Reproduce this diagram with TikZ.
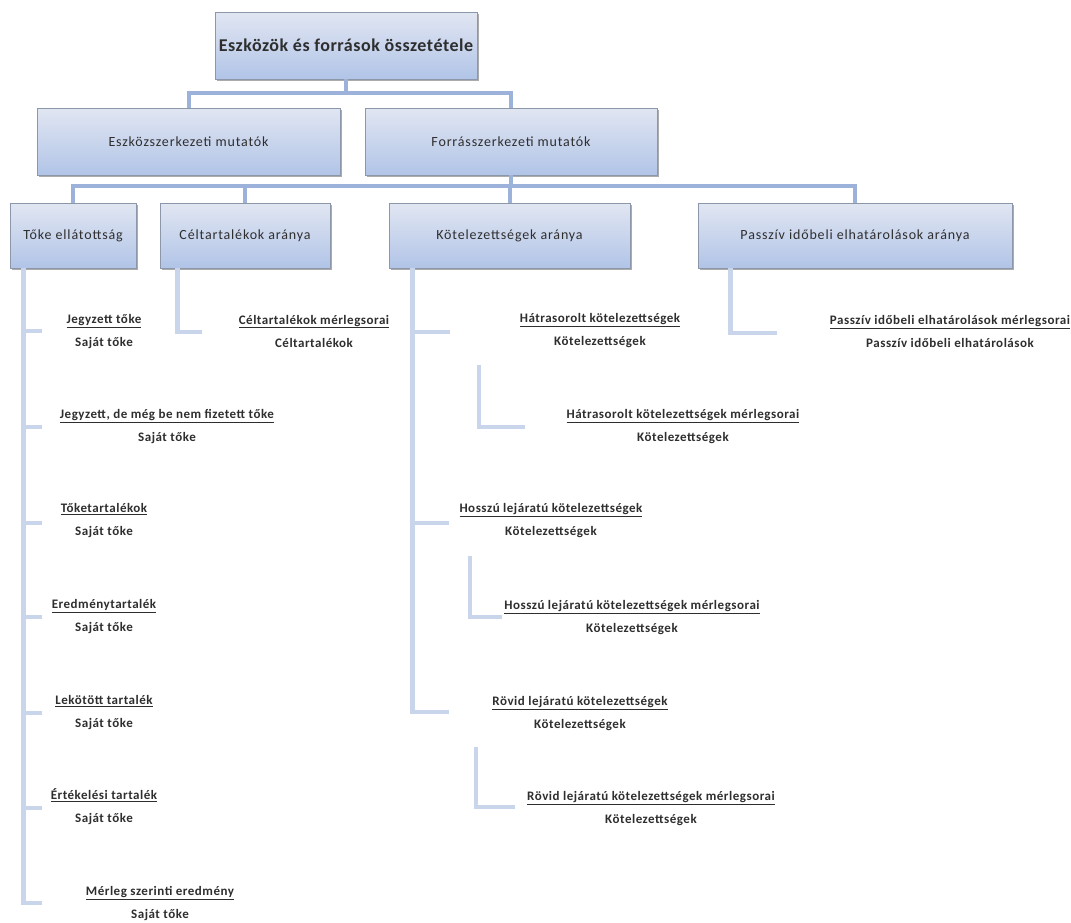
\documentclass[tikz,border=0pt]{standalone}
\usepackage{fontspec}
\setmainfont{Carlito}
\usetikzlibrary{positioning,shadows}

\definecolor{boxtop}{HTML}{E1E6F2}
\definecolor{boxbot}{HTML}{B1C4E7}
\definecolor{boxline}{HTML}{8C97AA}
\definecolor{trunkc}{HTML}{9DB2DA}
\definecolor{twigc}{HTML}{C9D5EA}
\definecolor{inkc}{HTML}{2E2E2E}

\begin{document}
\begin{tikzpicture}[
  x=1pt, y=-1pt,
  font=\fontsize{14}{16}\selectfont\addfontfeatures{LetterSpace=6},
  box/.style={draw=boxline, line width=.7pt, top color=boxtop, bottom color=boxbot, align=center, inner sep=0pt, text=inkc,
    drop shadow={shadow xshift=1.5pt, shadow yshift=-1.5pt, fill=black!55, opacity=.6}},
  rootbox/.style={box, minimum width=262pt, minimum height=67pt, font=\bfseries\fontsize{18}{20}\selectfont\addfontfeatures{LetterSpace=3}},
  midbox/.style={box, minimum height=67pt},
  leafbox/.style={box, minimum height=65pt},
  item/.style={align=center, inner sep=0pt, text=inkc, font=\bfseries\fontsize{13}{23}\selectfont\addfontfeatures{LetterSpace=4}},
  trunk/.style={draw=trunkc, line width=4pt},
  twig/.style={draw=twigc, line width=4.5pt}
]
  \useasboundingbox (0,0) rectangle (1071,922);

  \node[rootbox] (root) at (346,45.5) {Eszközök és források összetétele};
  \node[midbox, minimum width=303pt] (eszk) at (188.5,141.5) {Eszközszerkezeti mutatók};
  \node[midbox, minimum width=292pt] (forr) at (511,141.5) {Forrásszerkezeti mutatók};

  \node[leafbox, minimum width=126pt] (toke) at (73,235.5) {Tőke ellátottság};
  \node[leafbox, minimum width=170pt] (celt) at (245,235.5) {Céltartalékok aránya};
  \node[leafbox, minimum width=241pt] (kotel) at (509.5,235.5) {Kötelezettségek aránya};
  \node[leafbox, minimum width=314pt] (passz) at (855,235.5) {Passzív időbeli elhatárolások aránya};

  \node[item] (jegyz) at (104,331.5) {\underline{Jegyzett tőke}\\Saját tőke};
  \node[item] (jegyzb) at (167,427) {\underline{Jegyzett, de még be nem fizetett tőke}\\Saját tőke};
  \node[item] (toketart) at (104,521) {\underline{Tőketartalékok}\\Saját tőke};
  \node[item] (eredm) at (104,617) {\underline{Eredménytartalék}\\Saját tőke};
  \node[item] (lekot) at (104,713) {\underline{Lekötött tartalék}\\Saját tőke};
  \node[item] (ertek) at (104,807) {\underline{Értékelési tartalék}\\Saját tőke};
  \node[item] (merleg) at (160,903.5) {\underline{Mérleg szerinti eredmény}\\Saját tőke};

  \node[item] (celtm) at (314,331) {\underline{Céltartalékok mérlegsorai}\\Céltartalékok};

  \node[item] (hatr) at (600,331) {\underline{Hátrasorolt kötelezettségek}\\Kötelezettségek};
  \node[item] (hatrm) at (683,427) {\underline{Hátrasorolt kötelezettségek mérlegsorai}\\Kötelezettségek};
  \node[item] (hossz) at (551,521) {\underline{Hosszú lejáratú kötelezettségek}\\Kötelezettségek};
  \node[item] (hosszm) at (632,617.5) {\underline{Hosszú lejáratú kötelezettségek mérlegsorai}\\Kötelezettségek};
  \node[item] (rovid) at (580,713.5) {\underline{Rövid lejáratú kötelezettségek}\\Kötelezettségek};
  \node[item] (rovidm) at (651,808.5) {\underline{Rövid lejáratú kötelezettségek mérlegsorai}\\Kötelezettségek};

  \node[item] (passzm) at (950,331.5) {\underline{Passzív időbeli elhatárolások mérlegsorai}\\Passzív időbeli elhatárolások};

  \coordinate (jegyzend) at (42,331);
  \coordinate (jegyzbend) at (42,427);
  \coordinate (toketartend) at (42,523);
  \coordinate (eredmend) at (42,617);
  \coordinate (lekotend) at (42,713);
  \coordinate (ertekend) at (42,808);
  \coordinate (merlegend) at (42,903);
  \coordinate (celtmend) at (202,332);
  \coordinate (hatrend) at (450,332);
  \coordinate (hatrmtop) at (479,365);
  \coordinate (hatrmend) at (525,427);
  \coordinate (hosszend) at (449,523);
  \coordinate (hosszmtop) at (470,556);
  \coordinate (hosszmend) at (502,617);
  \coordinate (rovidend) at (449,712);
  \coordinate (rovidmtop) at (476,747);
  \coordinate (rovidmend) at (515,807);
  \coordinate (passzmend) at (777,333);

  \draw[trunk] (root.south) -- ++(0,14) -| (eszk.north);
  \draw[trunk] (root.south) -- ++(0,14) -| (forr.north);
  \draw[trunk] (forr.south) -- ++(0,11) -| (toke.north);
  \draw[trunk] (forr.south) -- ++(0,11) -| (celt.north);
  \draw[trunk] (forr.south) -- ++(0,11) -| (kotel.north);
  \draw[trunk] (forr.south) -- ++(0,11) -| (passz.north);

  \draw[twig] ([xshift=14pt]toke.south west) |- (jegyzend);
  \draw[twig] ([xshift=14pt]toke.south west) |- (jegyzbend);
  \draw[twig] ([xshift=14pt]toke.south west) |- (toketartend);
  \draw[twig] ([xshift=14pt]toke.south west) |- (eredmend);
  \draw[twig] ([xshift=14pt]toke.south west) |- (lekotend);
  \draw[twig] ([xshift=14pt]toke.south west) |- (ertekend);
  \draw[twig] ([xshift=14pt]toke.south west) |- (merlegend);

  \draw[twig] ([xshift=18pt]celt.south west) |- (celtmend);

  \draw[twig] ([xshift=24pt]kotel.south west) |- (hatrend);
  \draw[twig] ([xshift=24pt]kotel.south west) |- (hosszend);
  \draw[twig] ([xshift=24pt]kotel.south west) |- (rovidend);
  \draw[twig] (hatrmtop) |- (hatrmend);
  \draw[twig] (hosszmtop) |- (hosszmend);
  \draw[twig] (rovidmtop) |- (rovidmend);

  \draw[twig] ([xshift=33pt]passz.south west) |- (passzmend);
\end{tikzpicture}
\end{document}
